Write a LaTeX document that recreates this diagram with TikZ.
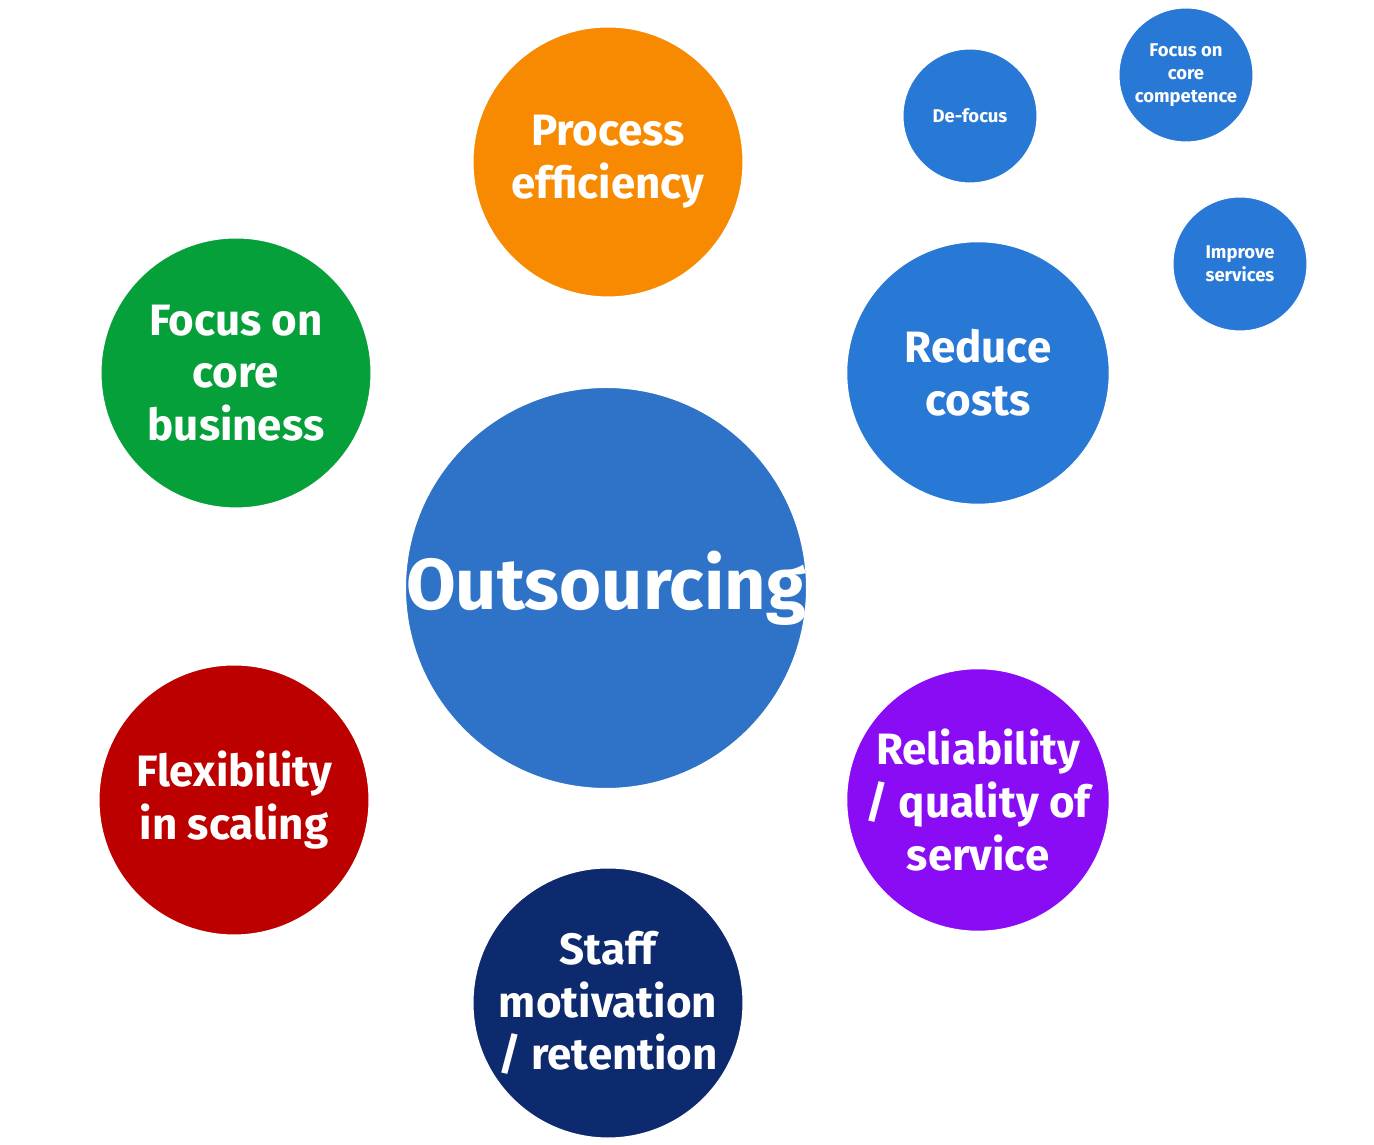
\documentclass[tikz,border=0pt]{standalone}
\usepackage{fontspec}
\setmainfont{Fira Sans}
\usetikzlibrary{backgrounds}
\definecolor{ringblue}{HTML}{A8B8DC}
\definecolor{cOrange}{HTML}{F78A00}
\definecolor{cBlue}{HTML}{2878D6}
\definecolor{cCenter}{HTML}{2E73C8}
\definecolor{cPurple}{HTML}{8A0CF5}
\definecolor{cNavy}{HTML}{0E2A6E}
\definecolor{cRed}{HTML}{BC0000}
\definecolor{cGreen}{HTML}{06A03A}
\tikzset{
  bubble/.style={circle, draw=white, line width=0.12cm, inner sep=0pt, align=center,
    text=white, font=\fontsize{25}{30}\selectfont\bfseries},
  small/.style={bubble, fill=cBlue, minimum size=2.74cm, line width=0.08cm,
    font=\fontsize{10.5}{13}\selectfont\bfseries},
  link/.style={ringblue, line width=0.8cm},
  minilink/.style={ringblue, line width=0.36cm}
}
\begin{document}
\begin{tikzpicture}[x=0.02cm,y=0.02cm]
    \useasboundingbox[fill=white] (0,0) rectangle (1374,1145);
    % centre et cercles principaux
    \node[bubble, fill=cCenter, minimum size=7.9cm, font=\fontsize{41}{48}\selectfont\bfseries] (out) at (606,557) {Outsourcing};
    \node[bubble, fill=cOrange, minimum size=5.5cm] (proc) at (608,983) {Process\\efficiency};
    \node[bubble, fill=cBlue, minimum size=5.35cm] (cost) at (978,772) {Reduce\\costs};
    \node[bubble, fill=cPurple, minimum size=5.35cm] (qual) at (978,345) {Reliability\\/ quality of\\service};
    \node[bubble, fill=cNavy, minimum size=5.5cm] (staff) at (608,142) {Staff\\motivation\\/ retention};
    \node[bubble, fill=cRed, minimum size=5.5cm] (flex) at (234,345) {Flexibility\\in scaling};
    \node[bubble, fill=cGreen, minimum size=5.5cm] (core) at (236,772) {Focus on\\core\\business};
    % petits cercles
    \node[small] (defoc) at (970,1029) {De-focus};
    \node[small] (comp) at (1186,1070) {Focus on\\core\\competence};
    \node[small] (impr) at (1240,881) {Improve\\services};

    \begin{scope}[on background layer]
    \draw[link] (proc) to[bend left=30] (cost);
    \draw[link] (cost) to[bend left=30] (qual);
    \draw[link] (qual) to[bend left=30] (staff);
    \draw[link] (staff) to[bend left=30] (flex);
    \draw[link] (flex) to[bend left=30] (core);
    \draw[link] (core) to[bend left=30] (proc);
    \draw[minilink] (defoc) to[bend left=25] (comp);
    \draw[minilink] (comp) to[bend left=25] (impr);
    \draw[minilink] (impr) to[bend left=20] (cost);
    \draw[minilink] (cost) -- (defoc);
    \end{scope}
\end{tikzpicture}
\end{document}
